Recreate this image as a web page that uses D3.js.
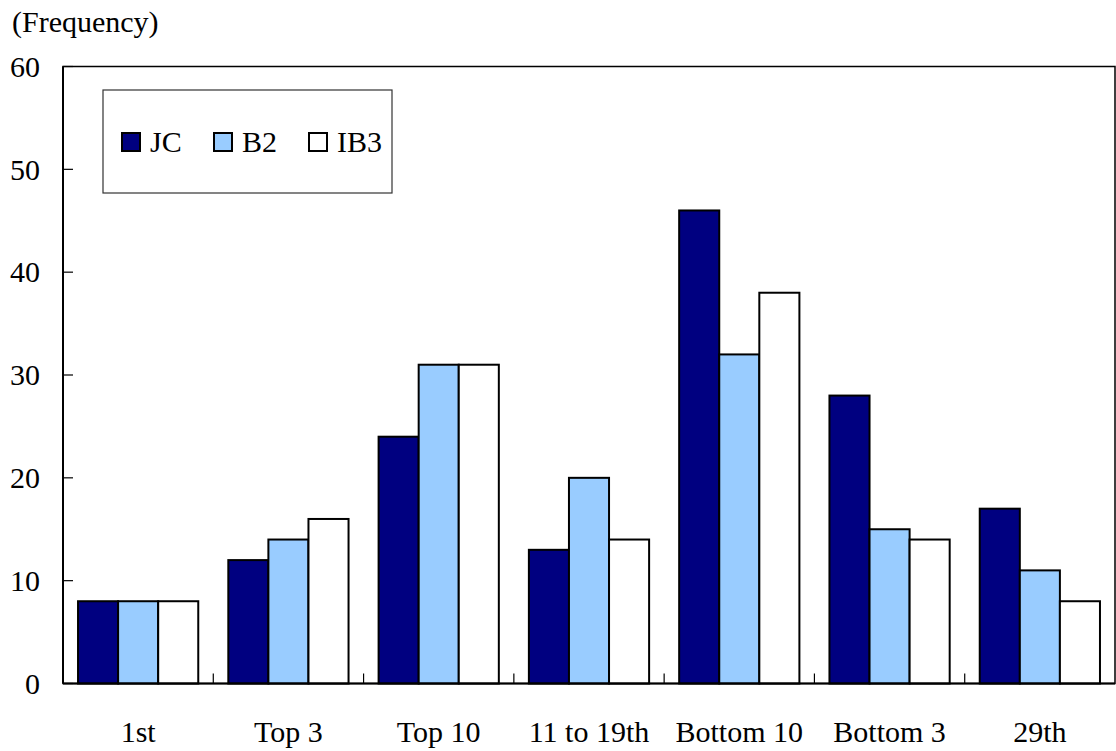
<!DOCTYPE html>
<html><head><meta charset="utf-8">
<script src="https://cdn.jsdelivr.net/npm/d3@7"></script>
<style>body{margin:0;background:#fff}</style>
</head><body>
<svg id="chart" width="1116" height="751"></svg>
<script>
const categories = ["1st","Top 3","Top 10","11 to 19th","Bottom 10","Bottom 3","29th"];
const seriesNames = ["JC","B2","IB3"];
const jcValues  = [8,12,24,13,46,28,17];
const b2Values  = [8,14,31,20,32,15,11];
const ib3Values = [8,16,31,14,38,14,8];
const yTicks = [0,10,20,30,40,50,60];
const colors = ["#000080","#99CCFF","#FFFFFF"];

const series = [jcValues,b2Values,ib3Values];
const svg = d3.select("#chart").attr("font-family","Liberation Serif");
const L=63, R=1115, T=66.5, B=683.5;
const x = d3.scaleBand().domain(categories).range([L,R]).paddingInner(0.2).paddingOuter(0.1);
const xCat = d3.scaleBand().domain(categories).range([L,R]);
const xs = d3.scaleBand().domain(seriesNames).range([0,x.bandwidth()]);
const y = d3.scaleLinear().domain([0,60]).range([B,T]);

function txt(sel){ return sel.attr("font-family","Liberation Serif").attr("font-size",30).attr("fill","#000"); }

// plot frame
svg.append("rect").attr("x",L).attr("y",T).attr("width",R-L).attr("height",B-T)
  .attr("fill","none").attr("stroke","#000").attr("stroke-width",1.5);

// bars
const g = svg.append("g");
categories.forEach((c,i)=>{
  series.forEach((s,j)=>{
    g.append("rect").attr("x",x(c)+xs(seriesNames[j])).attr("y",y(s[i]))
     .attr("width",xs.bandwidth()).attr("height",B-y(s[i]))
     .attr("fill",colors[j]).attr("stroke","#000").attr("stroke-width",2);
  });
});

// y axis
const ya = svg.append("g");
ya.append("line").attr("x1",L).attr("x2",L).attr("y1",T).attr("y2",B).attr("stroke","#000").attr("stroke-width",2);
yTicks.forEach(t=>{
  ya.append("line").attr("x1",L).attr("x2",L+10).attr("y1",y(t)).attr("y2",y(t)).attr("stroke","#000").attr("stroke-width",1.2);
  txt(ya.append("text").attr("x",L-23).attr("y",y(t)).attr("dy","0.34em").attr("text-anchor","end").text(t));
});

// x axis with boundary ticks
const xa = svg.append("g").attr("transform",`translate(0,${B})`);
xa.append("line").attr("x1",L).attr("x2",R).attr("stroke","#000").attr("stroke-width",2);
categories.slice(1).forEach(c=>{
  xa.append("line").attr("x1",xCat(c)).attr("x2",xCat(c)).attr("y1",0).attr("y2",-10)
    .attr("stroke","#000").attr("stroke-width",1.2);
});
categories.forEach(c=>{
  txt(xa.append("text").attr("x",xCat(c)+xCat.bandwidth()/2).attr("y",58)
    .attr("text-anchor","middle").text(c));
});

// y title
txt(svg.append("text").attr("x",12).attr("y",32).text("(Frequency)"));

// legend
const lg = svg.append("g");
lg.append("rect").attr("x",103).attr("y",90).attr("width",289).attr("height",103)
  .attr("fill","#fff").attr("stroke","#333").attr("stroke-width",1.2);
const legX = [122,214,309];
seriesNames.forEach((n,j)=>{
  lg.append("rect").attr("x",legX[j]).attr("y",133).attr("width",18).attr("height",18)
    .attr("fill",colors[j]).attr("stroke","#000").attr("stroke-width",2);
  txt(lg.append("text").attr("x",legX[j]+28).attr("y",152).text(n));
});
</script>
</body></html>
